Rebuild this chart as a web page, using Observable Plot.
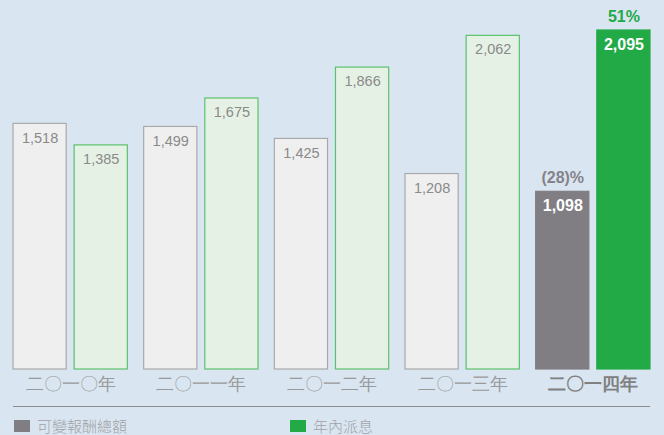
<!DOCTYPE html>
<html><head><meta charset="utf-8">
<script src="https://cdn.jsdelivr.net/npm/d3@7"></script>
<script src="https://cdn.jsdelivr.net/npm/@observablehq/plot@0.6"></script>
<style>
html,body{margin:0;padding:0}
body{background:#d9e6f2;width:664px;height:435px;overflow:hidden;position:relative;font-family:"Liberation Sans",Arial,sans-serif}
g[aria-label="year-labels"] text, g[aria-label="year-labels-current"] text{letter-spacing:1.5px;font-family:"Noto Sans CJK TC","Noto Sans",sans-serif}
#sep{position:absolute;left:13px;top:406px;width:637px;border-top:1.5px solid #8b8b8b}
.leg{position:absolute;top:416px;font:300 15px "Noto Sans CJK TC",sans-serif;color:#a2a2a6;line-height:20px;display:flex;align-items:center}
.sw{display:inline-block;width:16px;height:12px;margin-right:7px}
</style></head><body><div id="chart"></div>
<script>
const years = ["2010","2011","2012","2013","2014"];
const yearLabels = ["二〇一〇年","二〇一一年","二〇一二年","二〇一三年","二〇一四年"];
const variablePay = [1518,1499,1425,1208,1098];
const dividends = [1385,1675,1866,2062,2095];
const changeLabels = ["(28)%","51%"]; // 2014 vs 2013: variable pay, dividends
const seriesKeys = ["var","div"];
const seriesNames = ["可變報酬總額","年內派息"];

const current = "2014";
const rows = [];
years.forEach((y,i)=>{
  rows.push({year:y, series:"var", value:variablePay[i]});
  rows.push({year:y, series:"div", value:dividends[i]});
});
const fmt = d3.format(",");
const fillOf = d => d.year===current ? (d.series==="var" ? "#807e83" : "#22aa47") : (d.series==="var" ? "#efefef" : "#e6f1e5");
const strokeOf = d => d.year===current ? fillOf(d) : (d.series==="var" ? "#a9a9a9" : "#5cc16c");
const pctRows = rows.filter(d=>d.year===current).map((d,i)=>({...d, label: changeLabels[i]}));
const labelRows = years.map((y,i)=>({year:y, label:yearLabels[i]}));

const chart = Plot.plot({
  width: 664,
  height: 400,
  marginTop: 30,
  marginBottom: 31,
  marginLeft: 13,
  marginRight: 14,
  style: {background:"transparent", overflow:"visible", fontFamily:"'Liberation Sans', Arial, sans-serif"},
  fx: {domain: years, axis: null, paddingInner: 0.125, paddingOuter: 0, round: false, label: null},
  x: {domain: seriesKeys, axis: null, paddingInner: 0.13, paddingOuter: 0, round: false},
  y: {domain: [0, 2095], axis: null},
  color: {type: "identity"},
  marks: [
    Plot.barY(rows, {fx:"year", x:"series", y:"value", fill: fillOf, stroke: strokeOf, strokeWidth: 1.2}),
    Plot.text(rows.filter(d=>d.year!==current), {fx:"year", x:"series", y:"value", text: d=>fmt(d.value), dy: 14, fontSize: 14.5, fill: "#8a8a8a"}),
    Plot.text(rows.filter(d=>d.year===current), {fx:"year", x:"series", y:"value", text: d=>fmt(d.value), dy: 14, fontSize: 16, fontWeight: "bold", fill: "white"}),
    Plot.text(pctRows, {fx:"year", x:"series", y:"value", text:"label", dy: -14, fontSize: 16, fontWeight: "bold", fill: d=> d.series==="var" ? "#858389" : "#22aa47"}),
    Plot.text(labelRows.filter(d=>d.year!==current), {fx:"year", text:"label", frameAnchor:"bottom", lineAnchor:"middle", dy: 15, fontSize: 18, fontWeight: 300, fill:"#9a9a9a", ariaLabel:"year-labels"}),
    Plot.text(labelRows.filter(d=>d.year===current), {fx:"year", text:"label", frameAnchor:"bottom", lineAnchor:"middle", dy: 15, fontSize: 18, fontWeight: 700, fill:"#808080", ariaLabel:"year-labels-current"})
  ]
});
document.getElementById("chart").appendChild(chart);

const sep = document.createElement("div"); sep.id="sep"; document.body.appendChild(sep);
const legendColors = ["#807e83","#22aa47"];
const legendLeft = [14, 290];
seriesNames.forEach((n,i)=>{
  const el = document.createElement("div");
  el.className = "leg";
  el.style.left = legendLeft[i]+"px";
  el.innerHTML = `<span class="sw" style="background:${legendColors[i]}"></span>${n}`;
  document.body.appendChild(el);
});
</script></body></html>
